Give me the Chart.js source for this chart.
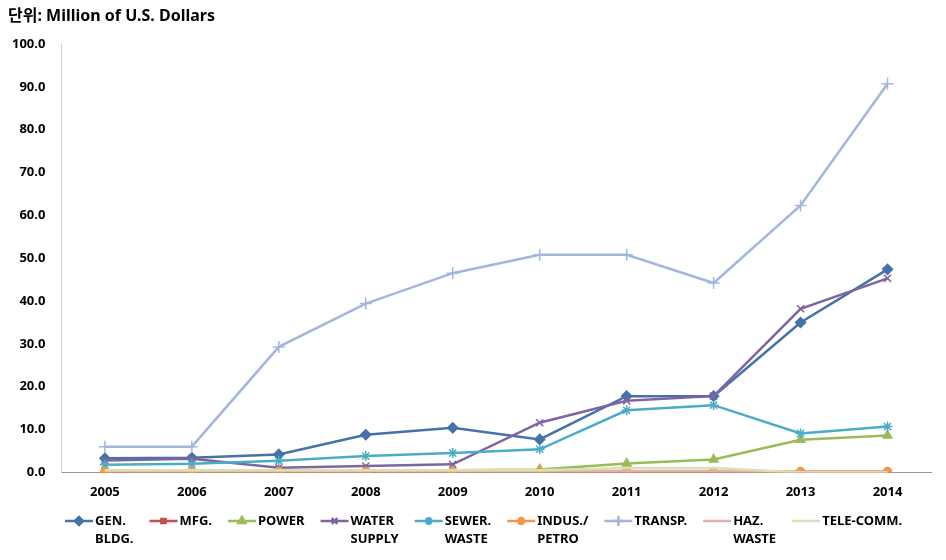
<!DOCTYPE html>
<html>
<head>
<meta charset="utf-8">
<script src="https://cdn.jsdelivr.net/npm/chart.js@4/dist/chart.umd.min.js"></script>
<style>
  html, body { margin: 0; padding: 0; background: #fff; }
  #wrap { width: 946px; height: 560px; }
</style>
</head>
<body>
<div id="wrap"><canvas id="chart" width="946" height="560"></canvas></div>
<script>
// --- data ---
const years = ['2005', '2006', '2007', '2008', '2009', '2010', '2011', '2012', '2013', '2014'];

const genBldg     = [3.3, 3.4, 4.2, 8.8, 10.4, 7.7, 17.8, 17.8, 35.0, 47.4];
const mfg         = [0.1, 0.1, 0.1, 0.1, 0.1, 0.1, 0.1, 0.1, 0.1, 0.1];
const power       = [0.3, 0.3, 0.3, 0.4, 0.5, 0.7, 2.1, 3.0, 7.6, 8.6];
const waterSupply = [2.8, 3.2, 1.1, 1.5, 1.9, 11.6, 16.7, 17.8, 38.2, 45.3];
const sewerWaste  = [1.8, 2.0, 2.7, 3.8, 4.5, 5.4, 14.5, 15.7, 9.1, 10.7];
const indusPetro  = [0.2, 0.2, 0.2, 0.2, 0.2, 0.2, 0.2, 0.2, 0.2, 0.2];
const transp      = [6.0, 6.0, 29.3, 39.4, 46.5, 50.8, 50.8, 44.2, 62.3, 90.7];
const hazWaste    = [0.3, 0.3, 0.3, 0.3, 0.3, 0.3, 0.3, 0.3, 0.1, 0.1];
const teleComm    = [0.5, 0.5, 0.5, 0.5, 0.5, 0.5, 1.0, 1.0, 0.0, 0.0];

const seriesNames = [['GEN.', 'BLDG.'], ['MFG.'], ['POWER'], ['WATER', 'SUPPLY'], ['SEWER.', 'WASTE'],
                     ['INDUS./', 'PETRO'], ['TRANSP.'], ['HAZ.', 'WASTE'], ['TELE-COMM.']];
const seriesValues = [genBldg, mfg, power, waterSupply, sewerWaste, indusPetro, transp, hazWaste, teleComm];
const seriesColors = ['#4572A7', '#C0504D', '#9BBB59', '#8064A2', '#4BACC6', '#F79646', '#A3B6DB', '#E3AFAD', '#D4E2B4'];
const seriesMarkers = ['rectRot', 'rect', 'triangle', 'crossRot', 'star', 'circle', 'cross', false, false];
const markerSizes = [5, 4, 5, 5, 5, 4, 6, 0, 0];

const yTicks = { min: 0, max: 100, step: 10 };
const titleText = '단위: Million of U.S. Dollars';

const FONT = "'Noto Sans', 'Noto Sans CJK KR', sans-serif";

// unit caption in the top-left corner
const unitTitle = {
    id: 'unitTitle',
    afterDraw(chart) {
        const ctx = chart.ctx;
        ctx.save();
        ctx.font = 'bold 16px ' + FONT;
        ctx.fillStyle = '#000';
        ctx.textAlign = 'left';
        ctx.textBaseline = 'middle';
        ctx.fillText(titleText, 8, 16);
        ctx.restore();
    }
};

// legend under the axis, labels may take two lines
const bottomLegend = {
    id: 'bottomLegend',
    afterDraw(chart) {
        const ctx = chart.ctx;
        ctx.save();
        ctx.font = 'bold 13px ' + FONT;
        ctx.textBaseline = 'middle';
        ctx.textAlign = 'left';
        let x = 65;
        const y = 521;
        seriesNames.forEach((lines, i) => {
            ctx.strokeStyle = seriesColors[i];
            ctx.lineWidth = 2.5;
            ctx.beginPath();
            ctx.moveTo(x, y);
            ctx.lineTo(x + 28, y);
            ctx.stroke();
            if (seriesMarkers[i]) {
                ctx.fillStyle = seriesColors[i];
                Chart.helpers.drawPoint(ctx, {
                    pointStyle: seriesMarkers[i],
                    radius: markerSizes[i] - 1,
                    rotation: 0,
                    borderWidth: 1.5
                }, x + 14, y);
            }
            ctx.fillStyle = '#000';
            let w = 0;
            lines.forEach((t, k) => {
                ctx.fillText(t, x + 30, y + k * 18);
                w = Math.max(w, ctx.measureText(t).width);
            });
            x += 30 + w + 16;
        });
        ctx.restore();
    }
};

const datasets = seriesValues.map((vals, i) => ({
    label: seriesNames[i].join(' '),
    data: vals,
    borderColor: seriesColors[i],
    backgroundColor: seriesColors[i],
    borderWidth: 2.5,
    pointStyle: seriesMarkers[i],
    pointRadius: markerSizes[i],
    pointBorderWidth: 1.5,
    pointHoverRadius: markerSizes[i],
    tension: 0,
    order: -i
}));

new Chart(document.getElementById('chart').getContext('2d'), {
    type: 'line',
    data: { labels: years, datasets: datasets },
    options: {
        responsive: false,
        animation: false,
        layout: { padding: { left: -4, right: 15, top: 44, bottom: 48 } },
        plugins: {
            legend: { display: false },
            tooltip: { enabled: false },
            title: { display: false }
        },
        scales: {
            x: {
                offset: true,
                grid: { display: false, drawTicks: false },
                border: { color: '#969696', width: 1 },
                ticks: { color: '#000', padding: 12, maxRotation: 0, font: { family: FONT, size: 13, weight: 'bold' } }
            },
            y: {
                min: yTicks.min,
                max: yTicks.max,
                grid: { display: false, drawTicks: false },
                border: { color: '#d0d0d0', width: 1 },
                ticks: {
                    stepSize: yTicks.step,
                    color: '#000',
                    padding: 16,
                    font: { family: FONT, size: 13, weight: 'bold' },
                    callback: v => v.toFixed(1)
                }
            }
        }
    },
    plugins: [unitTitle, bottomLegend]
});
</script>
</body>
</html>
